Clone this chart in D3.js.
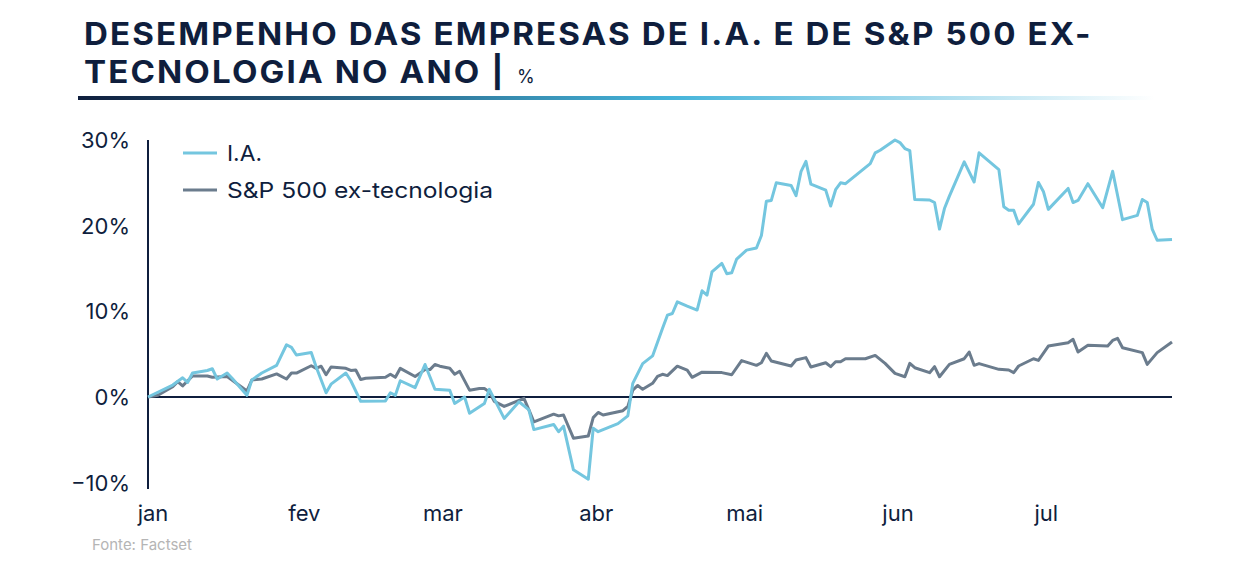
<!DOCTYPE html>
<html>
<head>
<meta charset="utf-8">
<script src="https://cdn.jsdelivr.net/npm/d3@7"></script>
<style>
  body { margin: 0; background: #fff; }
  text { font-family: Inter, "Noto Sans", sans-serif; }
</style>
</head>
<body>
<svg id="chart" width="1240" height="566"></svg>
<script>
// Data (% change year to date)
const iaDates = ["01-01","01-06","01-08","01-09","01-10","01-13","01-14","01-15","01-17","01-18","01-21","01-22","01-24","01-27","01-29","01-30","01-31",
  "02-03","02-04","02-06","02-07","02-10","02-11","02-13","02-18","02-19","02-20","02-21","02-24","02-26","02-28",
  "03-03","03-04","03-06","03-07","03-10","03-11","03-14","03-17","03-19","03-20","03-24","03-25","03-26","03-28","03-31",
  "04-01","04-02","04-06","04-08","04-09","04-11","04-13","04-15","04-16","04-17","04-18","04-20","04-22","04-23","04-24","04-25","04-27","04-28","04-29","04-30",
  "05-02","05-04","05-05","05-06","05-07","05-08","05-11","05-12","05-13","05-14","05-15","05-18","05-19","05-20","05-21","05-22","05-27","05-28","05-29",
  "06-01","06-02","06-03","06-04","06-05","06-08","06-09","06-10","06-11","06-12","06-15","06-17","06-18","06-22","06-23","06-24","06-25","06-26","06-29","06-30",
  "07-01","07-02","07-06","07-07","07-08","07-10","07-13","07-15","07-17","07-20","07-21","07-22","07-23","07-24","07-27"];
const iaValues = [0,1.4,2.25,1.7,2.8,3.1,3.3,2.1,2.8,2.2,0.2,2.0,2.8,3.7,6.1,5.8,4.9,
  5.2,3.5,0.5,1.5,2.8,1.9,-0.5,-0.45,0.5,0.2,1.9,1.1,3.8,0.9,
  0.8,-0.75,0,-1.9,-0.75,0.9,-2.5,-0.55,-1.5,-3.8,-3.2,-4.05,-3.4,-8.5,-9.6,
  -3.65,-4.05,-3.1,-2.2,1.6,3.9,4.8,8.0,9.55,9.75,11.1,10.6,10.15,12.4,11.9,14.6,15.6,14.4,14.5,16.1,
  17.15,17.4,18.85,22.85,22.95,25.0,24.7,23.5,26.3,27.5,24.85,24.15,22.3,24.2,25.0,24.9,27.25,28.5,28.8,
  30.0,29.7,29.0,28.75,23.05,23.0,22.7,19.6,22.0,23.45,27.45,25.1,28.5,26.55,22.2,21.8,21.8,20.2,22.5,25.05,
  24.0,21.9,24.35,22.7,22.95,24.9,22.1,26.35,20.7,21.2,23.05,22.7,19.6,18.3,18.4];

const spDates = ["01-01","01-03","01-06","01-07","01-08","01-10","01-13","01-14","01-17","01-21","01-22","01-24","01-27","01-29","01-30","01-31",
  "02-03","02-04","02-05","02-06","02-07","02-10","02-11","02-12","02-13","02-14","02-18","02-19","02-20","02-21","02-24","02-26","02-27","02-28",
  "03-01","03-03","03-04","03-05","03-07","03-09","03-10","03-11","03-12","03-14","03-18","03-19","03-20","03-24","03-25","03-26","03-28","03-31",
  "04-01","04-02","04-03","04-07","04-08","04-09","04-10","04-11","04-13","04-14","04-15","04-16","04-18","04-20","04-21","04-23","04-27","04-29",
  "05-01","05-04","05-05","05-06","05-07","05-11","05-12","05-14","05-15","05-18","05-19","05-20","05-21","05-22","05-26","05-28","05-30",
  "06-01","06-03","06-04","06-05","06-08","06-09","06-10","06-12","06-15","06-16","06-17","06-18","06-22","06-24","06-25","06-26","06-29","06-30",
  "07-02","07-06","07-07","07-08","07-10","07-14","07-15","07-16","07-17","07-21","07-22","07-24","07-27"];
const spValues = [0,0.2,1.2,1.8,1.3,2.45,2.45,2.3,2.4,0.7,2.0,2.1,2.7,2.1,2.8,2.8,
  3.65,3.35,3.6,2.6,3.5,3.35,3.1,3.15,2.05,2.2,2.3,2.65,2.3,3.35,2.4,3.2,3.2,3.8,
  3.6,3.35,2.65,3.0,0.8,1.0,1.0,0.6,-0.5,-1.1,-0.15,-1.5,-2.9,-2.0,-2.2,-2.1,-4.8,-4.55,
  -2.4,-1.8,-2.1,-1.6,-1.1,0.8,1.35,0.9,1.6,2.4,2.65,2.5,3.6,3.15,2.3,2.9,2.85,2.6,
  4.25,3.7,4.0,5.1,4.2,3.62,4.32,4.6,3.5,4.0,3.54,4.12,4.12,4.47,4.47,4.86,3.93,
  2.76,2.37,3.93,3.42,2.84,3.54,2.37,3.81,4.47,5.25,3.7,3.9,3.23,3.15,2.84,3.62,4.47,4.28,
  5.95,6.34,6.73,5.25,6.03,5.95,6.61,6.85,5.76,5.18,3.81,5.18,6.42];

const yTicks = [-10, 0, 10, 20, 30];
const monthLabels = ["jan","fev","mar","abr","mai","jun","jul"];
const seriesNames = ["I.A.", "S&P 500 ex-tecnologia"];
const titleLines = ["DESEMPENHO DAS EMPRESAS DE I.A. E DE S&P 500 EX-", "TECNOLOGIA NO ANO |"];

const navy = "#0f1e3d";
const colors = ["#74c6df", "#6b7c8d"];

const parse = d3.timeParse("%Y-%m-%d");
const toSeries = (dates, values) => dates.map((d, i) => ({date: parse("2025-" + d), value: values[i]}));
const series = [toSeries(iaDates, iaValues), toSeries(spDates, spValues)];

const svg = d3.select("#chart");

// title: bold caps stretched sideways to match the wide typeface
const defs = svg.append("defs");
const grad = defs.append("linearGradient").attr("id", "bar");
grad.append("stop").attr("offset", "0%").attr("stop-color", "#0f1e3d");
grad.append("stop").attr("offset", "55%").attr("stop-color", "#45b4da");
grad.append("stop").attr("offset", "100%").attr("stop-color", "#45b4da").attr("stop-opacity", 0);

const title = svg.append("g");
const t1 = title.append("text").attr("y", 45)
  .attr("font-size", 31).attr("font-weight", 700).attr("fill", navy)
  .attr("letter-spacing", 2).text(titleLines[0]);
title.append("text").attr("y", 83)
  .attr("font-size", 31).attr("font-weight", 700).attr("fill", navy)
  .attr("letter-spacing", 2).text(titleLines[1]);
const k = 1009 / t1.node().getComputedTextLength();
title.attr("transform", `translate(84,0) scale(${k},1)`);
svg.append("text").attr("x", 517).attr("y", 83)
  .attr("font-size", 18).attr("fill", navy).text("%");

svg.append("rect").attr("x", 78).attr("y", 96).attr("width", 1077).attr("height", 4)
  .attr("fill", "url(#bar)");

// scales
const x = d3.scaleTime()
  .domain([parse("2025-01-01"), parse("2025-07-27")])
  .range([148, 1172]);
const y = d3.scaleLinear().domain([-10, 30]).range([482.7, 140]);

// y labels
svg.append("g").selectAll("text").data(yTicks).join("text")
  .attr("x", 130).attr("y", d => y(d)).attr("dy", "0.36em")
  .attr("text-anchor", "end").attr("font-size", 22).attr("fill", navy)
  .text(d => (d < 0 ? "\u2212" + Math.abs(d) : d) + "%");

// x labels
const months = d3.timeMonth.range(parse("2025-01-01"), parse("2025-07-02"));
svg.append("g").selectAll("text").data(months).join("text")
  .attr("x", (d, i) => x(d) + (i === 0 ? 5 : 3)).attr("y", 521)
  .attr("text-anchor", "middle").attr("font-size", 22).attr("fill", navy)
  .text((d, i) => monthLabels[i]);

// axes lines
svg.append("line").attr("x1", x.range()[0]).attr("x2", x.range()[0])
  .attr("y1", y(30)).attr("y2", 489).attr("stroke", navy).attr("stroke-width", 2);
svg.append("line").attr("x1", x.range()[0]).attr("x2", x.range()[1])
  .attr("y1", y(0)).attr("y2", y(0)).attr("stroke", navy).attr("stroke-width", 2);

// lines (S&P first so I.A. sits on top)
const line = d3.line().x(d => x(d.date)).y(d => y(d.value));
[1, 0].forEach(i => {
  svg.append("path").datum(series[i])
    .attr("fill", "none").attr("stroke", colors[i]).attr("stroke-width", 3)
    .attr("stroke-linejoin", "round").attr("d", line);
});

// legend
const legendWidths = [35, 266];
const legend = svg.append("g").selectAll("g").data(seriesNames).join("g")
  .attr("transform", (d, i) => `translate(183,${153 + i * 37})`);
legend.append("line").attr("x1", 0).attr("x2", 34)
  .attr("stroke", (d, i) => colors[i]).attr("stroke-width", 3);
legend.append("text").attr("x", 44).attr("dy", "0.36em")
  .attr("font-size", 22).attr("fill", navy)
  .attr("textLength", (d, i) => legendWidths[i]).attr("lengthAdjust", "spacingAndGlyphs")
  .text(d => d);

// source
svg.append("text").attr("x", 92).attr("y", 550)
  .attr("font-size", 15).attr("fill", "#b5b5b5").text("Fonte: Factset");
</script>
</body>
</html>
